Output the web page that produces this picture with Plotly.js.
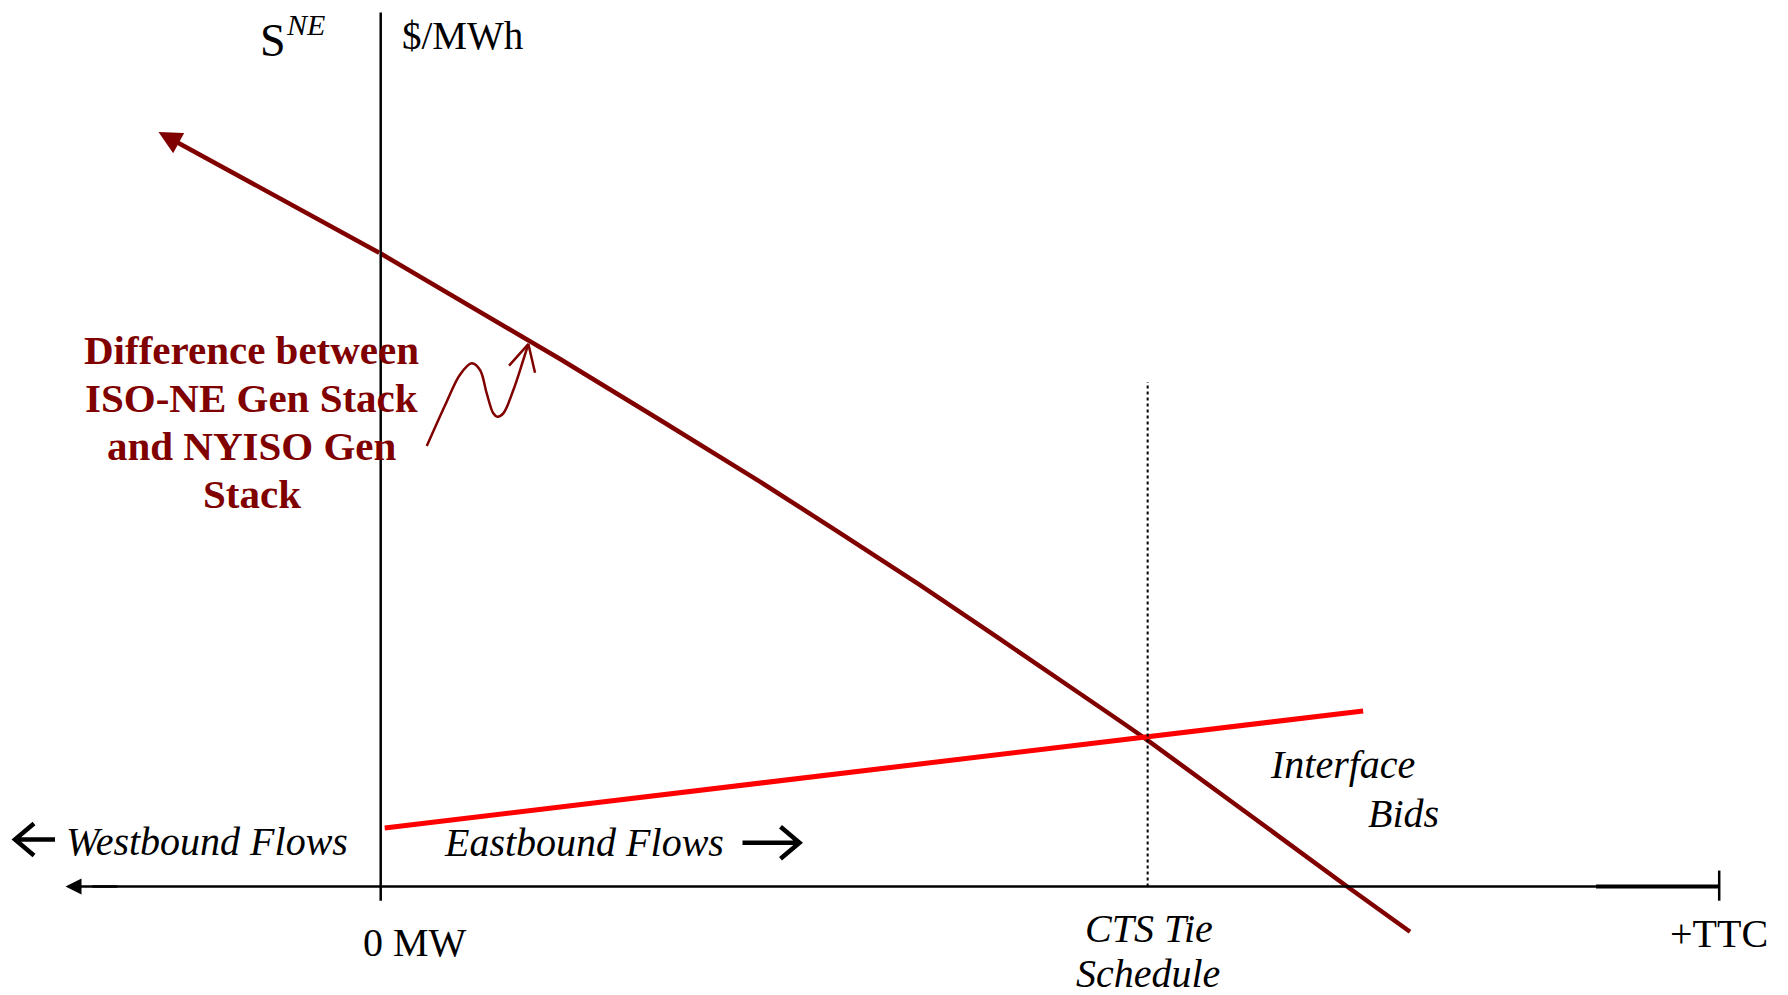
<!DOCTYPE html>
<html>
<head>
<meta charset="utf-8">
<script src="https://cdn.plot.ly/plotly-3.0.1.min.js"></script>
<style>
  html, body { margin: 0; padding: 0; background: #ffffff; }
  #chart { width: 1788px; height: 995px; }
</style>
</head>
<body>
<div id="chart"></div>
<script>
// ---------- labels ----------
const priceUnit = '$/MWh';
const supplyName = 'S';
const supplySup = 'NE';
const tickLabels = ['0 MW', 'CTS Tie', 'Schedule', '+TTC'];
const flowLabels = ['Westbound Flows', 'Eastbound Flows'];
const noteLines = ['Difference between', 'ISO-NE Gen Stack', 'and NYISO Gen', 'Stack'];
const bidLabels = ['Interface', 'Bids'];

// ---------- axis values (MW: 0 .. +TTC = 100, price in $/MWh units) ----------
const ttc = 100;
const ctsSchedule = 57.3;
const ctsTop = 56.9;
const priceAxisTop = 98.6;
const priceAxisBottom = -1.6;
const mwAxisLeft = -23.55;

// ---------- ISO-NE vs NYISO gen stack difference curve ----------
const supplyMW    = [-16.6, 0.0, 13.4, 28.3, 40.3, 52.2, 57.2, 72.2, 76.9];
const supplyPrice = [ 85.1, 71.4, 59.5, 45.7, 34.0, 21.8, 16.6,  0.0, -5.1];

// ---------- interface bids ----------
const bidMW    = [0.3, 73.4];
const bidPrice = [6.6, 19.8];

// ---------- hand drawn pointer ----------
const curlMW    = [3.44, 4.93, 5.92, 6.80, 7.42, 7.92, 8.41, 8.71, 9.16, 9.91, 10.65, 11.03];
const curlPrice = [49.69, 54.69, 57.73, 59.02, 58.27, 55.63, 53.38, 53.00, 53.38, 56.01, 59.39, 61.19];
const barbMW    = [9.59, 11.03, 11.53];
const barbPrice = [58.75, 61.19, 57.96];

// ---------- styling ----------
const W = 1788, H = 995;
const MAROON = '#800000';
const RED = '#ff0000';
const SERIF = 'Liberation Serif, Times New Roman, serif';
const px = v => v / W;
const py = v => 1 - v / H;

function label(text, x, y, size, opts) {
  opts = opts || {};
  return {
    text: text, xref: 'paper', yref: 'paper', x: px(x), y: py(y),
    xanchor: 'center', yanchor: 'middle', showarrow: false,
    font: { family: opts.family || SERIF, size: size, color: opts.color || '#000000' }
  };
}

// open chevron arrow drawn in pixel space, converted to paper coords
function flowArrow(tailX, tipX, y) {
  const dir = tipX > tailX ? 1 : -1;
  const bx = tipX - dir * 19, dy = 16;
  const p = (x, yy) => px(x) + ',' + py(yy);
  return {
    type: 'path', xref: 'paper', yref: 'paper',
    path: 'M' + p(tailX, y) + 'L' + p(tipX, y) +
          'M' + p(bx, y - dy) + 'L' + p(tipX, y) + 'L' + p(bx, y + dy),
    line: { color: '#000', width: 4.5 }
  };
}

const traces = [
  { x: supplyMW.slice(1), y: supplyPrice.slice(1), mode: 'lines', type: 'scatter',
    line: { color: MAROON, width: 4.5, shape: 'spline', smoothing: 0.6 }, hoverinfo: 'skip' },
  { x: bidMW, y: bidPrice, mode: 'lines', type: 'scatter',
    line: { color: RED, width: 5 }, hoverinfo: 'skip' },
  { x: curlMW, y: curlPrice, mode: 'lines', type: 'scatter',
    line: { color: MAROON, width: 2.5, shape: 'spline', smoothing: 1 }, hoverinfo: 'skip' },
  { x: barbMW, y: barbPrice, mode: 'lines', type: 'scatter',
    line: { color: MAROON, width: 2.5 }, hoverinfo: 'skip' }
];

const shapes = [
  { type: 'line', xref: 'x', yref: 'y', x0: 0, x1: 0, y0: priceAxisBottom, y1: priceAxisTop,
    line: { color: '#000', width: 2.5 } },
  { type: 'line', xref: 'x', yref: 'y', x0: mwAxisLeft + 2, x1: ttc, y0: 0, y1: 0,
    line: { color: '#000', width: 2.5 } },
  { type: 'line', xref: 'x', yref: 'y', x0: 90.8, x1: ttc, y0: 0, y1: 0,
    line: { color: '#000', width: 4 } },
  { type: 'line', xref: 'x', yref: 'y', x0: ttc, x1: ttc, y0: priceAxisBottom, y1: 1.8,
    line: { color: '#000', width: 2.5 } },
  { type: 'line', xref: 'x', yref: 'y', x0: ctsSchedule, x1: ctsSchedule, y0: 0, y1: ctsTop,
    line: { color: '#000', width: 2, dash: 'dot' } },
  flowArrow(55, 15, 839.5),
  flowArrow(742.5, 799.5, 842.7)
];

const annotations = [
  // arrow head of the stack-difference curve
  { xref: 'x', yref: 'y', axref: 'x', ayref: 'y',
    x: supplyMW[0], y: supplyPrice[0], ax: supplyMW[1], ay: supplyPrice[1],
    text: '', showarrow: true, arrowhead: 2, arrowsize: 1.02, arrowwidth: 4.5, arrowcolor: MAROON },
  // left arrow head of MW axis
  { xref: 'x', yref: 'y', axref: 'x', ayref: 'y',
    x: mwAxisLeft, y: 0, ax: mwAxisLeft + 4, ay: 0,
    text: '', showarrow: true, arrowhead: 2, arrowsize: 1.28, arrowwidth: 2.5, arrowcolor: '#000' },

  label(supplyName, 272.5, 41, 46),
  label('<i>' + supplySup + '</i>', 305, 25, 30),
  label(priceUnit, 462, 35, 39),

  label('<b>' + noteLines[0] + '</b>', 252, 349.5, 41, { color: MAROON }),
  label('<b>' + noteLines[1] + '</b>', 252, 397.9, 41, { color: MAROON }),
  label('<b>' + noteLines[2] + '</b>', 252, 446.2, 41, { color: MAROON }),
  label('<b>' + noteLines[3] + '</b>', 252, 493.5, 41, { color: MAROON }),

  label('<i>' + flowLabels[0] + '</i>', 207, 841.5, 40),
  label('<i>' + flowLabels[1] + '</i>', 584, 842, 40),

  label(tickLabels[0], 415, 942.5, 40),
  label('<i>' + tickLabels[1] + '</i>', 1148.8, 928.2, 40),
  label('<i>' + tickLabels[2] + '</i>', 1147.6, 973.2, 40),
  label(tickLabels[3], 1719.4, 933.2, 40),

  label('<i>' + bidLabels[0] + '</i>', 1342.5, 764.8, 40),
  label('<i>' + bidLabels[1] + '</i>', 1403.5, 813.8, 40)
];

const layout = {
  width: W, height: H,
  margin: { l: 0, r: 0, t: 0, b: 0, pad: 0 },
  paper_bgcolor: '#ffffff', plot_bgcolor: '#ffffff',
  showlegend: false,
  xaxis: { visible: false, range: [-28.443, 105.14], autorange: false, fixedrange: true },
  yaxis: { visible: false, range: [-12.239, 100], autorange: false, fixedrange: true },
  shapes: shapes,
  annotations: annotations
};

Plotly.newPlot('chart', traces, layout, { staticPlot: true, displayModeBar: false });
</script>
</body>
</html>
